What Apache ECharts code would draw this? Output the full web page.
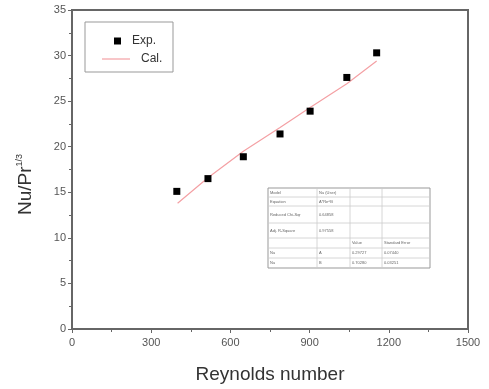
<!DOCTYPE html>
<html>
<head>
<meta charset="utf-8">
<script src="https://cdn.jsdelivr.net/npm/echarts@6/dist/echarts.min.js"></script>
<style>
  html, body { margin: 0; padding: 0; background: #fff; }
  #chart { width: 489px; height: 389px; }
</style>
</head>
<body>
<div id="chart"></div>
<script>
// measured points (Reynolds number, Nu/Pr^1/3)
var reExp = [397, 515, 649, 788, 902, 1041, 1154];
var nuExp = [15.1, 16.5, 18.9, 21.4, 23.9, 27.6, 30.3];
// fitted curve
var reCal = [400, 515, 649, 788, 902, 1041, 1154];
var nuCal = [13.8, 16.6, 19.5, 22.1, 24.3, 26.9, 29.4];
// fit result table
var tableRows = [
  ['Model', 'Nu (User)', '', ''],
  ['Equation', 'A*Re^B', '', ''],
  ['Reduced Chi-Sqr', '0.64858', '', ''],
  ['Adj. R-Square', '0.97558', '', ''],
  ['', '', 'Value', 'Standard Error'],
  ['Nu', 'A', '0.29727', '0.07440'],
  ['Nu', 'B', '0.70280', '0.03251']
];

var chart = echarts.init(document.getElementById('chart'));

function pairs(xs, ys) {
  return xs.map(function (x, i) { return [x, ys[i]]; });
}

// table graphic
var colX = [268, 317, 350, 382, 430];
var rowY = [188, 197, 206, 223, 238, 248, 258, 268];
var gfx = [];
// legend frame
gfx.push({ type: 'rect', shape: { x: 85, y: 22, width: 88, height: 50 },
  style: { fill: 'none', stroke: '#999', lineWidth: 1 }, z: 1 });
gfx.push({ type: 'rect', shape: { x: colX[0], y: rowY[0], width: colX[4] - colX[0], height: rowY[7] - rowY[0] },
  style: { fill: '#fff', stroke: '#999', lineWidth: 1 } });
for (var r = 1; r < rowY.length - 1; r++) {
  gfx.push({ type: 'line', shape: { x1: colX[0], y1: rowY[r], x2: colX[4], y2: rowY[r] }, style: { stroke: '#ccc', lineWidth: 0.8 } });
}
for (var c = 1; c < colX.length - 1; c++) {
  gfx.push({ type: 'line', shape: { x1: colX[c], y1: rowY[0], x2: colX[c], y2: rowY[7] }, style: { stroke: '#ccc', lineWidth: 0.8 } });
}
tableRows.forEach(function (row, ri) {
  row.forEach(function (txt, ci) {
    if (!txt) return;
    gfx.push({ type: 'text', x: colX[ci] + 2, y: (rowY[ri] + rowY[ri + 1]) / 2,
      style: { text: txt, fontSize: 4, fill: '#666', verticalAlign: 'middle', fontFamily: 'Arial' } });
  });
});

var legendText = { fontSize: 12, color: '#333', fontFamily: 'Arial', padding: [0, 0, 0, 6] };

chart.setOption({
  animation: false,
  grid: { left: 72, right: 21, top: 10, bottom: 59, show: true, borderColor: '#666', borderWidth: 2 },
  legend: [
    {
      left: 114, top: 35, padding: 0,
      itemWidth: 7, itemHeight: 7,
      textStyle: legendText,
      data: [{ name: 'Exp.', icon: 'rect' }]
    },
    {
      left: 102, top: 53, padding: 0,
      itemWidth: 28, itemHeight: 1.2,
      textStyle: legendText,
      data: [{ name: 'Cal.', icon: 'rect' }]
    }
  ],
  xAxis: {
    type: 'value', min: 0, max: 1500, interval: 300,
    name: 'Reynolds number', nameLocation: 'middle', nameGap: 36,
    nameTextStyle: { fontSize: 19, color: '#333', fontFamily: 'Arial' },
    axisLine: { show: true, lineStyle: { color: '#666', width: 2 } },
    axisTick: { show: true, inside: false, length: 4, lineStyle: { color: '#666' } },
    minorTick: { show: true, splitNumber: 2, length: 3, lineStyle: { color: '#666' } },
    splitLine: { show: false },
    axisLabel: { fontSize: 11, color: '#555', margin: 8, fontFamily: 'Arial',
      formatter: function (v) { return String(v); } }
  },
  yAxis: {
    type: 'value', min: 0, max: 35, interval: 5,
    name: '{a|Nu/Pr}{s|1/3}', nameLocation: 'middle', nameGap: 36, nameRotate: 90,
    nameTextStyle: { padding: [0, 30, 0, 0], rich: {
      a: { fontSize: 19, color: '#333', fontFamily: 'Arial' },
      s: { fontSize: 9, color: '#333', fontFamily: 'Arial', verticalAlign: 'top', padding: [0, 0, 12, 0] }
    } },
    axisLine: { show: true, lineStyle: { color: '#666', width: 2 } },
    axisTick: { show: true, inside: false, length: 4, lineStyle: { color: '#666' } },
    minorTick: { show: true, splitNumber: 2, length: 3, lineStyle: { color: '#666' } },
    splitLine: { show: false },
    axisLabel: { fontSize: 11, color: '#555', margin: 6, fontFamily: 'Arial' }
  },
  series: [
    {
      name: 'Exp.', type: 'scatter', symbol: 'rect', symbolSize: 7,
      itemStyle: { color: '#000', opacity: 1 },
      data: pairs(reExp, nuExp), z: 3
    },
    {
      name: 'Cal.', type: 'line', showSymbol: false, symbol: 'none',
      lineStyle: { color: '#f4a0a4', width: 1.2 },
      itemStyle: { color: '#f4a0a4' },
      data: pairs(reCal, nuCal), z: 2
    }
  ],
  graphic: gfx
});
</script>
</body>
</html>
